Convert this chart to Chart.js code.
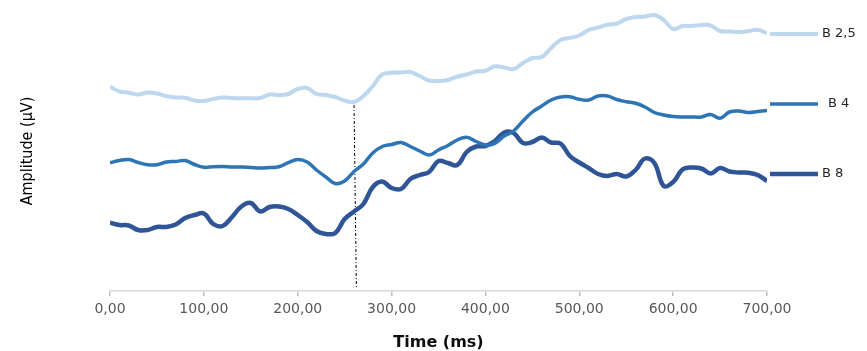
<!DOCTYPE html>
<html>
<head>
<meta charset="utf-8">
<script src="https://cdn.jsdelivr.net/npm/chart.js@4.4.1/dist/chart.umd.min.js"></script>
<style>
  html, body { margin: 0; padding: 0; background: #fff; }
  #wrap { width: 867px; height: 351px; }
</style>
</head>
<body>
<div id="wrap"><canvas id="erp"></canvas></div>
<script>
// time axis, one sample every 10 ms
const times = [];
for (let t = 0; t <= 700; t += 10) times.push(t);

const xTicks = [0, 100, 200, 300, 400, 500, 600, 700];
const seriesNames = ['B 2,5', 'B 4', 'B 8'];

// amplitudes (arbitrary µV offset, no y ticks shown)
const b25 = [
  20.43, 19.95, 19.83, 19.65, 19.85, 19.75, 19.5, 19.35, 19.33, 19.05,
  19.0, 19.2, 19.35, 19.3, 19.27, 19.27, 19.3, 19.65, 19.6, 19.7,
  20.2, 20.3, 19.7, 19.6, 19.4, 19.05, 18.9, 19.5, 20.5, 21.65,
  21.82, 21.85, 21.9, 21.5, 21.05, 21.0, 21.1, 21.45, 21.65, 21.95,
  22.02, 22.47, 22.35, 22.2, 22.8, 23.3, 23.4, 24.3, 25.1, 25.3,
  25.55, 26.1, 26.35, 26.62, 26.75, 27.2, 27.4, 27.45, 27.6, 27.1,
  26.2, 26.5, 26.5, 26.6, 26.55, 26.0, 25.95, 25.9, 26.0, 26.12, 25.77
];
const b4 = [
  12.83, 13.05, 13.15, 12.85, 12.63, 12.63, 12.9, 12.95, 13.05, 12.65,
  12.37, 12.43, 12.45, 12.4, 12.4, 12.35, 12.3, 12.35, 12.43, 12.83,
  13.15, 12.9, 12.1, 11.4, 10.75, 11.0, 11.95, 12.7, 13.8, 14.45,
  14.65, 14.85, 14.45, 14.0, 13.6, 14.1, 14.55, 15.1, 15.37, 14.95,
  14.6, 14.77, 15.5, 16.0, 17.0, 17.9, 18.5, 19.1, 19.4, 19.42,
  19.17, 19.1, 19.5, 19.5, 19.15, 18.93, 18.77, 18.4, 17.85, 17.6,
  17.45, 17.4, 17.4, 17.4, 17.65, 17.27, 17.9, 18.0, 17.85, 17.95, 18.05
];
const b8 = [
  6.83, 6.6, 6.55, 6.1, 6.1, 6.4, 6.4, 6.65, 7.3, 7.6,
  7.75, 6.7, 6.5, 7.4, 8.45, 8.8, 7.95, 8.4, 8.45, 8.2,
  7.6, 6.9, 6.0, 5.7, 5.8, 7.2, 7.95, 8.7, 10.4, 10.95,
  10.3, 10.2, 11.2, 11.6, 11.9, 13.0, 12.8, 12.6, 13.9, 14.45,
  14.5, 15.0, 15.85, 15.8, 14.8, 14.9, 15.35, 14.85, 14.75, 13.5,
  12.85, 12.3, 11.7, 11.5, 11.7, 11.45, 12.1, 13.25, 12.8, 10.5,
  10.9, 12.15, 12.35, 12.25, 11.75, 12.3, 11.95, 11.85, 11.83, 11.6, 11.0
];

// dash-dot marker near 260 ms
const markerTimes = [260, 262.5];
const markerValues = [18.6, 0.4];

const colors = ['#bdd7ee', '#2e75b6', '#2f5597'];
const widths = [4, 3.5, 4.5];

const toPoints = (vals) => vals.map((v, i) => ({ x: times[i], y: v }));

const sideLabels = {
  id: 'sideLabels',
  afterDatasetsDraw(chart) {
    const ctx = chart.ctx;
    const area = chart.chartArea;
    ctx.save();
    seriesNames.forEach((name, i) => {
      const y = area.top + 23 + i * 70;
      ctx.strokeStyle = colors[i];
      ctx.lineWidth = widths[i];
      ctx.beginPath();
      ctx.moveTo(area.right + 3, y);
      ctx.lineTo(area.right + 51, y);
      ctx.stroke();
      ctx.fillStyle = '#262626';
      ctx.font = '13px "DejaVu Sans"';
      ctx.textBaseline = 'middle';
      ctx.fillText(name, area.right + (i === 1 ? 61 : 55), y);
    });
    ctx.restore();
  }
};

new Chart(document.getElementById('erp'), {
  type: 'line',
  data: {
    datasets: [
      ...seriesNames.map((name, i) => ({
        label: name,
        data: toPoints([b25, b4, b8][i]),
        borderColor: colors[i],
        borderWidth: widths[i],
        pointRadius: 0,
        tension: 0.4,
        fill: false
      })),
      {
        label: 'marker',
        data: markerTimes.map((t, i) => ({ x: t, y: markerValues[i] })),
        borderColor: '#000000',
        borderWidth: 1,
        borderDash: [3, 2, 1, 2],
        pointRadius: 0,
        tension: 0
      }
    ]
  },
  options: {
    responsive: true,
    maintainAspectRatio: false,
    animation: false,
    layout: { padding: { top: 11, right: 100, left: 0, bottom: 0 } },
    plugins: {
      legend: { display: false },
      tooltip: { enabled: false }
    },
    scales: {
      x: {
        type: 'linear',
        min: 0,
        max: 700,
        afterBuildTicks: (scale) => { scale.ticks = xTicks.map(v => ({ value: v })); },
        afterFit: (scale) => { scale.height = 60; },
        ticks: {
          callback: (v) => v.toFixed(2).replace('.', ','),
          color: '#595959',
          font: { family: 'DejaVu Sans', size: 14 },
          padding: 5,
          maxRotation: 0
        },
        grid: {
          drawOnChartArea: false,
          drawTicks: true,
          tickLength: 5,
          color: '#bfbfbf',
          lineWidth: 1.5
        },
        border: { display: true, color: '#d9d9d9', width: 1.5 },
        title: {
          display: true,
          text: 'Time (ms)',
          color: '#0d0d0d',
          font: { family: 'DejaVu Sans', size: 16, weight: 'bold', lineHeight: 1 },
          padding: { top: 0, bottom: 0 }
        }
      },
      y: {
        min: 0,
        max: 28,
        afterFit: (scale) => { scale.width = 110; },
        ticks: { display: false },
        grid: { display: false },
        border: { display: false },
        title: {
          display: true,
          text: 'Amplitude (µV)',
          color: '#000000',
          font: { family: '"Liberation Sans Narrow", "DejaVu Sans Condensed", "Liberation Sans", sans-serif', size: 16, lineHeight: 1.2 },
          padding: { top: 18, bottom: 0 }
        }
      }
    }
  },
  plugins: [sideLabels]
});
</script>
</body>
</html>
